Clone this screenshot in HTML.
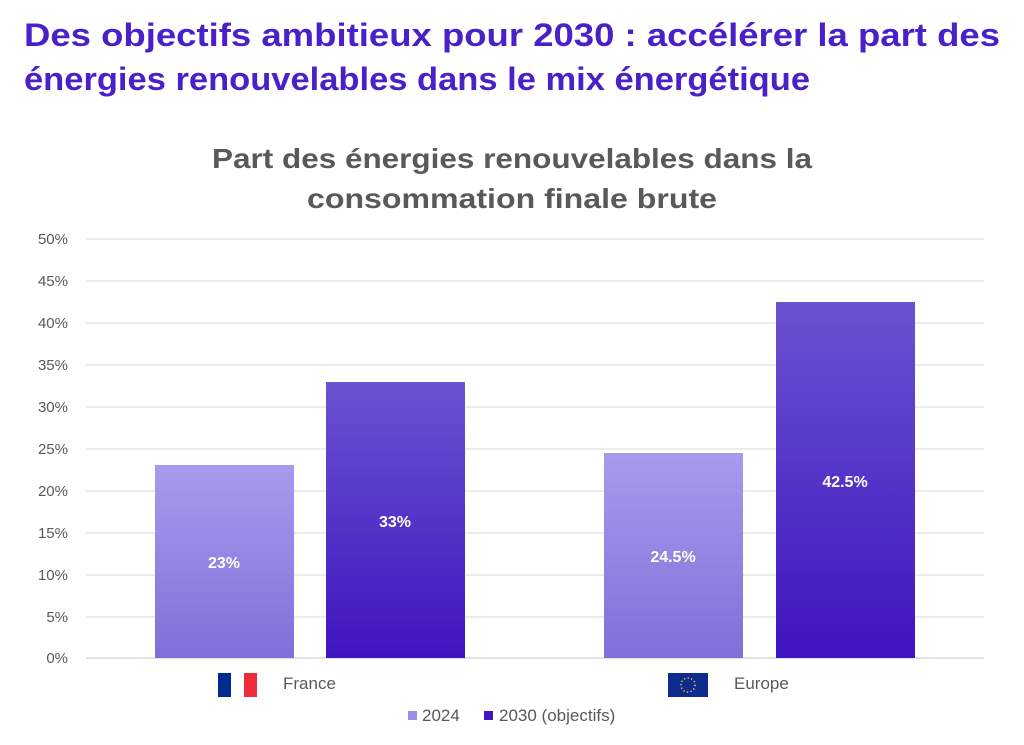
<!DOCTYPE html>
<html><head><meta charset="utf-8"><style>
body{margin:0;background:#fff;width:1024px;height:745px;overflow:hidden}
svg{display:block;font-family:"Liberation Sans",sans-serif}
</style></head><body>
<svg width="1024" height="745" viewBox="0 0 1024 745">
<defs>
<linearGradient id="l" x1="0" y1="0" x2="0" y2="1"><stop offset="0" stop-color="#a79bed"/><stop offset="1" stop-color="#7f6fd8"/></linearGradient>
<linearGradient id="d" x1="0" y1="0" x2="0" y2="1"><stop offset="0" stop-color="#6a53d1"/><stop offset="1" stop-color="#3f14bf"/></linearGradient>
</defs>
<text x="24" y="46" font-size="32" font-weight="bold" fill="#4a20c8" textLength="976" lengthAdjust="spacingAndGlyphs">Des objectifs ambitieux pour 2030 : accélérer la part des</text>
<text x="24" y="90" font-size="32" font-weight="bold" fill="#4a20c8" textLength="786" lengthAdjust="spacingAndGlyphs">énergies renouvelables dans le mix énergétique</text>
<text x="212" y="168" font-size="28" font-weight="bold" fill="#595959" textLength="600" lengthAdjust="spacingAndGlyphs">Part des énergies renouvelables dans la</text>
<text x="307" y="208" font-size="28" font-weight="bold" fill="#595959" textLength="410" lengthAdjust="spacingAndGlyphs">consommation finale brute</text>
<g stroke="#e0e0e0" stroke-width="1.2">
<line x1="86" x2="984" y1="239" y2="239"/><line x1="86" x2="984" y1="281" y2="281"/><line x1="86" x2="984" y1="323" y2="323"/><line x1="86" x2="984" y1="365" y2="365"/><line x1="86" x2="984" y1="407" y2="407"/><line x1="86" x2="984" y1="449" y2="449"/><line x1="86" x2="984" y1="491" y2="491"/><line x1="86" x2="984" y1="533" y2="533"/><line x1="86" x2="984" y1="575" y2="575"/><line x1="86" x2="984" y1="617" y2="617"/><line x1="86" x2="984" y1="658" y2="658" stroke="#d0d0d0"/>
</g>
<g font-size="15" fill="#595959" text-anchor="end">
<text x="68" y="244">50%</text><text x="68" y="286">45%</text><text x="68" y="328">40%</text><text x="68" y="370">35%</text><text x="68" y="412">30%</text><text x="68" y="454">25%</text><text x="68" y="496">20%</text><text x="68" y="538">15%</text><text x="68" y="580">10%</text><text x="68" y="622">5%</text><text x="68" y="663">0%</text>
</g>
<rect x="155" y="465" width="139" height="193" fill="url(#l)"/>
<rect x="326" y="382" width="139" height="276" fill="url(#d)"/>
<rect x="604" y="453" width="139" height="205" fill="url(#l)"/>
<rect x="776" y="302" width="139" height="356" fill="url(#d)"/>
<g font-size="16" font-weight="bold" fill="#fff" text-anchor="middle">
<text x="224" y="568">23%</text><text x="395" y="527">33%</text><text x="673" y="562">24.5%</text><text x="845" y="487">42.5%</text>
</g>
<rect x="218" y="673" width="13" height="24" fill="#002b8f"/><rect x="231" y="673" width="13" height="24" fill="#fff"/><rect x="244" y="673" width="13" height="24" fill="#ef2b3c"/>
<text x="283" y="689" font-size="17" fill="#595959">France</text>
<rect x="668" y="673" width="40" height="24" fill="#0d2a8c"/>
<circle cx="688" cy="685" r="7" fill="none" stroke="#f3d21c" stroke-width="1.6" stroke-dasharray="1.2 2.4"/>
<text x="734" y="689" font-size="17" fill="#595959">Europe</text>
<rect x="408" y="711" width="9" height="9" fill="#9b8ce8"/>
<text x="422" y="721" font-size="17" fill="#595959">2024</text>
<rect x="484" y="711" width="9" height="9" fill="#4416c0"/>
<text x="499" y="721" font-size="17" fill="#595959">2030 (objectifs)</text>
</svg>
</body></html>
